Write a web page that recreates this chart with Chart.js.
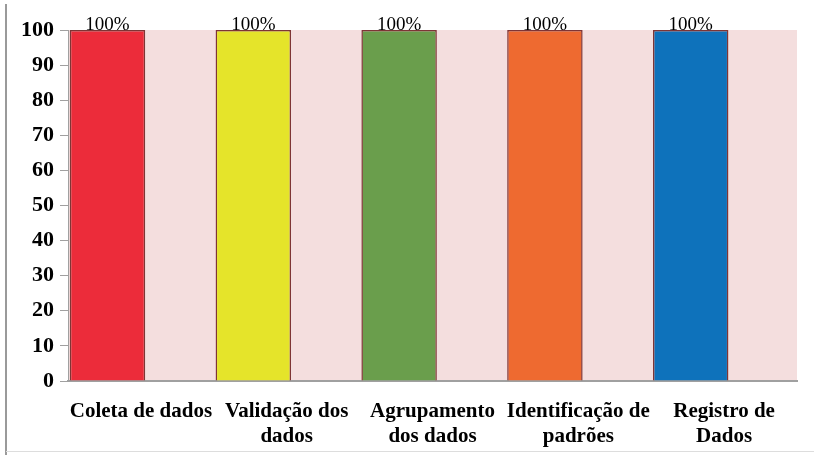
<!DOCTYPE html>
<html><head><meta charset="utf-8">
<script src="https://cdn.jsdelivr.net/npm/chart.js@4/dist/chart.umd.min.js"></script>
<style>html,body{margin:0;padding:0;background:#fff;}#wrap{width:814px;height:455px;position:relative;}</style>
</head><body><div id="wrap"><canvas id="c" width="814" height="455"></canvas></div>
<script>
const categories = [["Coleta de dados"], ["Validação dos", "dados"], ["Agrupamento", "dos dados"], ["Identificação de", "padrões"], ["Registro de", "Dados"]];
const values = [100, 100, 100, 100, 100];
const barColors = ["#EC2C3A", "#E5E42A", "#6A9E4C", "#EE6A30", "#0E72BB"];
const yTicks = [0, 10, 20, 30, 40, 50, 60, 70, 80, 90, 100];

const bgPlugin = {
  id: 'bg',
  beforeDraw(chart) {
    const {ctx, chartArea: a} = chart;
    ctx.save();
    ctx.fillStyle = '#fff';
    ctx.fillRect(0, 0, chart.width, chart.height);
    ctx.fillStyle = '#F4DEDE';
    ctx.fillRect(a.left, a.top, a.right - a.left, a.bottom - a.top);
    ctx.strokeStyle = '#9a9a9a';
    ctx.lineWidth = 2;
    ctx.beginPath(); ctx.moveTo(6, 4); ctx.lineTo(6, 455); ctx.stroke();
    ctx.strokeStyle = '#dddddd';
    ctx.lineWidth = 1;
    ctx.beginPath(); ctx.moveTo(6, 451.5); ctx.lineTo(814, 451.5); ctx.stroke();
    ctx.restore();
  }
};
const labelPlugin = {
  id: 'vlabels',
  afterDatasetsDraw(chart) {
    const {ctx} = chart;
    const meta = chart.getDatasetMeta(0);
    ctx.save();
    ctx.font = '19px "Liberation Serif", "Times New Roman", serif';
    ctx.fillStyle = '#000';
    ctx.textAlign = 'center';
    ctx.textBaseline = 'alphabetic';
    meta.data.forEach((bar, i) => {
      ctx.fillText(values[i] + '%', bar.x, bar.y);
    });
    ctx.restore();
  }
};

new Chart(document.getElementById('c'), {
  type: 'bar',
  data: {
    labels: categories,
    datasets: [
      { data: values, backgroundColor: barColors, borderColor: '#7E3535', borderWidth: 1.5,
        categoryPercentage: 0.916, barPercentage: 1.13 },
      { data: values.map(() => null), backgroundColor: 'rgba(0,0,0,0)',
        categoryPercentage: 0.916, barPercentage: 1.13 }
    ]
  },
  options: {
    responsive: false,
    animation: false,
    devicePixelRatio: 1,
    layout: { padding: { left: 0, right: 17, top: 30, bottom: 0 } },
    plugins: { legend: { display: false }, tooltip: { enabled: false } },
    scales: {
      x: {
        grid: { display: false },
        border: { display: true, color: '#a0a0a0', width: 2 },
        ticks: { color: '#000', padding: 10, maxRotation: 0, autoSkip: false,
          font: { family: '"Liberation Serif", "Times New Roman", serif', size: 21, weight: 'bold', lineHeight: 1.2 } },
        afterFit(s) { s.height = 74; }
      },
      y: {
        min: 0, max: 100,
        afterBuildTicks(s) { s.ticks = yTicks.map(v => ({ value: v })); },
        grid: { drawOnChartArea: false, drawTicks: true, tickLength: 8, color: '#a0a0a0' },
        border: { display: true, color: '#a0a0a0', width: 1 },
        ticks: { color: '#000', padding: 6,
          font: { family: '"Liberation Serif", "Times New Roman", serif', size: 22, weight: 'bold' } },
        afterFit(s) { s.width = 68; }
      }
    }
  },
  plugins: [bgPlugin, labelPlugin]
});
</script></body></html>
